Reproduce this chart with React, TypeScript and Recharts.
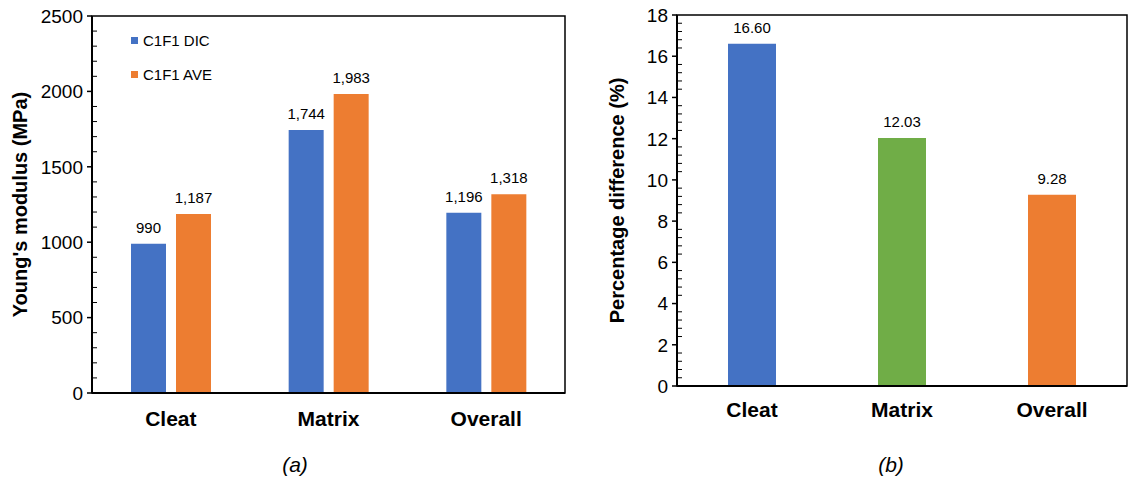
import { BarChart, Bar, XAxis, YAxis, ReferenceArea, LabelList, Cell } from 'recharts'

const categories = ['Cleat', 'Matrix', 'Overall']

const dicModulus = [990, 1744, 1196]
const aveModulus = [1187, 1983, 1318]
const modulusTicks = [0, 500, 1000, 1500, 2000, 2500]

const pctDifference = [16.6, 12.03, 9.28]
const pctColors = ['#4472C4', '#70AD47', '#ED7D31']
const pctTicks = [0, 2, 4, 6, 8, 10, 12, 14, 16, 18]

const DIC_COLOR = '#4472C4'
const AVE_COLOR = '#ED7D31'
const FONT = '"Liberation Sans", Arial, sans-serif'

const modulusData = categories.map((name, i) => ({
  name,
  dic: dicModulus[i],
  ave: aveModulus[i],
}))

const pctData = categories.map((name, i) => ({ name, value: pctDifference[i] }))

// major ticks plus 4 minor ticks between each pair
function withMinors(majors: number[]) {
  const out: number[] = []
  for (let i = 0; i < majors.length - 1; i++) {
    const step = (majors[i + 1] - majors[i]) / 5
    for (let k = 0; k < 5; k++) out.push(+(majors[i] + k * step).toFixed(4))
  }
  out.push(majors[majors.length - 1])
  return out
}

// major ticks point out with a label, minor ticks point into the plot
function makeYTick(majors: number[]) {
  return function YTick(props: any) {
    const { x, y, payload } = props
    if (majors.includes(payload.value)) {
      return (
        <g>
          <line x1={x - 5} x2={x} y1={y} y2={y} stroke="#000" strokeWidth={1.5} />
          <text x={x - 9} y={y} dy="0.36em" textAnchor="end" fontSize={19} fontFamily={FONT} fill="#000">
            {payload.value}
          </text>
        </g>
      )
    }
    return <line x1={x} x2={x + 5} y1={y} y2={y} stroke="#000" strokeWidth={1} />
  }
}

const catTick = { fill: '#000', fontSize: 21, fontWeight: 'bold' as const, fontFamily: FONT }
const valueLabel = { fill: '#000', fontSize: 15, fontFamily: FONT }

function LegendItem({ color, label }: { color: string; label: string }) {
  return (
    <div style={{ display: 'flex', alignItems: 'center', height: 34 }}>
      <span style={{ width: 7, height: 7, background: color, marginRight: 5 }} />
      <span style={{ fontSize: 15, fontFamily: FONT }}>{label}</span>
    </div>
  )
}

export default function App() {
  return (
    <div style={{ position: 'absolute', left: 0, top: 0, width: 1133, height: 483, background: '#fff' }}>
      <div style={{ position: 'absolute', left: 0, top: 0 }}>
        <BarChart
          width={580}
          height={483}
          data={modulusData}
          margin={{ top: 16, right: 15, left: 0, bottom: 50 }}
          barGap={10}
        >
          <XAxis
            dataKey="name"
            height={40}
            tickLine={false}
            tickSize={0}
            tickMargin={18}
            tick={catTick}
            axisLine={{ stroke: '#000', strokeWidth: 2 }}
          />
          <YAxis
            width={92}
            domain={[0, 2500]}
            ticks={withMinors(modulusTicks)}
            interval={0}
            tickLine={false}
            tickSize={0}
            tickMargin={0}
            tick={makeYTick(modulusTicks)}
            axisLine={{ stroke: '#000', strokeWidth: 2 }}
            label={{
              value: "Young's modulus (MPa)",
              angle: -90,
              position: 'insideLeft',
              offset: 20,
              style: { textAnchor: 'middle', fontSize: 20, fontWeight: 'bold', fontFamily: FONT, fill: '#000' },
            }}
          />
          <ReferenceArea y1={0} y2={2500} fill="none" stroke="#000" strokeWidth={1.5} />
          <Bar dataKey="dic" name="C1F1 DIC" fill={DIC_COLOR} barSize={35} isAnimationActive={false}>
            <LabelList
              dataKey="dic"
              position="top"
              offset={11}
              style={valueLabel}
              formatter={(v: any) => Number(v).toLocaleString('en-US')}
            />
          </Bar>
          <Bar dataKey="ave" name="C1F1 AVE" fill={AVE_COLOR} barSize={35} isAnimationActive={false}>
            <LabelList
              dataKey="ave"
              position="top"
              offset={11}
              style={valueLabel}
              formatter={(v: any) => Number(v).toLocaleString('en-US')}
            />
          </Bar>
        </BarChart>
        <div style={{ position: 'absolute', left: 131, top: 23 }}>
          <LegendItem color={DIC_COLOR} label="C1F1 DIC" />
          <LegendItem color={AVE_COLOR} label="C1F1 AVE" />
        </div>
      </div>

      <div style={{ position: 'absolute', left: 580, top: 0 }}>
        <BarChart
          width={553}
          height={483}
          data={pctData}
          margin={{ top: 15, right: 6, left: 0, bottom: 57 }}
        >
          <XAxis
            dataKey="name"
            height={40}
            tickLine={false}
            tickSize={0}
            tickMargin={16}
            tick={catTick}
            axisLine={{ stroke: '#000', strokeWidth: 2 }}
          />
          <YAxis
            width={97}
            domain={[0, 18]}
            ticks={withMinors(pctTicks)}
            interval={0}
            tickLine={false}
            tickSize={0}
            tickMargin={0}
            tick={makeYTick(pctTicks)}
            axisLine={{ stroke: '#000', strokeWidth: 2 }}
            label={{
              value: 'Percentage difference (%)',
              angle: -90,
              position: 'insideLeft',
              offset: 37,
              style: { textAnchor: 'middle', fontSize: 20, fontWeight: 'bold', fontFamily: FONT, fill: '#000' },
            }}
          />
          <ReferenceArea y1={0} y2={18} fill="none" stroke="#000" strokeWidth={1.5} />
          <Bar dataKey="value" barSize={48} isAnimationActive={false}>
            {pctData.map((d, i) => (
              <Cell key={d.name} fill={pctColors[i]} />
            ))}
            <LabelList
              dataKey="value"
              position="top"
              offset={11}
              style={valueLabel}
              formatter={(v: any) => Number(v).toFixed(2)}
            />
          </Bar>
        </BarChart>
      </div>

      <div style={{ position: 'absolute', left: 295, top: 465, transform: 'translate(-50%, -50%)', fontStyle: 'italic', fontSize: 21, fontFamily: FONT }}>
        (a)
      </div>
      <div style={{ position: 'absolute', left: 891, top: 465, transform: 'translate(-50%, -50%)', fontStyle: 'italic', fontSize: 21, fontFamily: FONT }}>
        (b)
      </div>
    </div>
  )
}
